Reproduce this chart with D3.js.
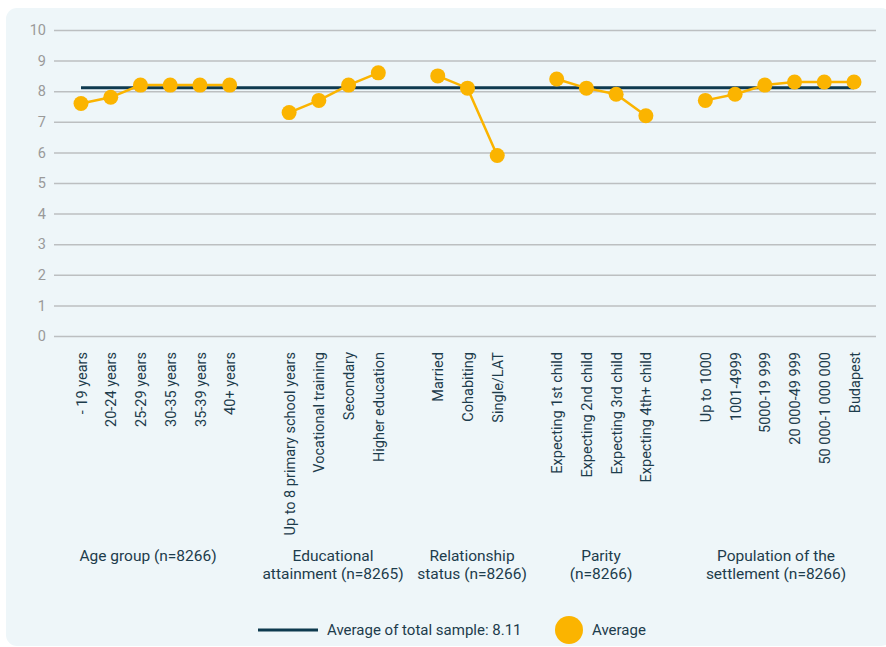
<!DOCTYPE html>
<html>
<head>
<meta charset="utf-8">
<script src="https://cdn.jsdelivr.net/npm/d3@7/dist/d3.min.js"></script>
<style>
  html, body { margin: 0; padding: 0; background: #ffffff; }
  svg { display: block; font-family: Roboto, "Noto Sans", sans-serif; }
</style>
</head>
<body>
<svg id="chart" width="886" height="647"></svg>
<script>
// Satisfaction averages by respondent group
const ageLabels = ["- 19 years", "20-24 years", "25-29 years", "30-35 years", "35-39 years", "40+ years"];
const ageValues = [7.6, 7.8, 8.2, 8.2, 8.2, 8.2];

const eduLabels = ["Up to 8 primary school years", "Vocational training", "Secondary", "Higher education"];
const eduValues = [7.3, 7.7, 8.2, 8.6];

const relLabels = ["Married", "Cohabiting", "Single/LAT"];
const relValues = [8.5, 8.1, 5.9];

const parityLabels = ["Expecting 1st child", "Expecting 2nd child", "Expecting 3rd child", "Expecting 4th+ child"];
const parityValues = [8.4, 8.1, 7.9, 7.2];

const popLabels = ["Up to 1000", "1001-4999", "5000-19 999", "20 000-49 999", "50 000-1 000 000", "Budapest"];
const popValues = [7.7, 7.9, 8.2, 8.3, 8.3, 8.3];

const groupTitles = [
  ["Age group (n=8266)"],
  ["Educational", "attainment (n=8265)"],
  ["Relationship", "status (n=8266)"],
  ["Parity", "(n=8266)"],
  ["Population of the", "settlement (n=8266)"]
];

const totalAverage = 8.11;
const yTicks = [0, 1, 2, 3, 4, 5, 6, 7, 8, 9, 10];

// Build the slot list: each group's categories followed by an empty spacer slot
const groups = [
  { labels: ageLabels, values: ageValues },
  { labels: eduLabels, values: eduValues },
  { labels: relLabels, values: relValues },
  { labels: parityLabels, values: parityValues },
  { labels: popLabels, values: popValues }
];
const slots = [];
groups.forEach((g, gi) => {
  g.slots = [];
  g.labels.forEach((lab, i) => {
    const key = "g" + gi + "_" + i;
    slots.push(key);
    g.slots.push({ key, label: lab, value: g.values[i] });
  });
  if (gi < groups.length - 1) slots.push("gap" + gi);
});

const svg = d3.select("#chart");
const W = 886, H = 647;

const gridLeft = 54, gridRight = 876;
const x = d3.scalePoint().domain(slots).range([81, 854]);
const y = d3.scaleLinear().domain([0, 10]).range([336, 30]);

const textDark = "#1d3c4c";
const orange = "#fbb400";
const navy = "#0e3a4f";

// Panel background
svg.append("rect")
  .attr("x", 6).attr("y", 8)
  .attr("width", W).attr("height", 638)
  .attr("rx", 11)
  .attr("fill", "#eef6f9");

// Horizontal gridlines and y labels
const yAxis = d3.axisLeft(y).tickValues(yTicks).tickSize(-(gridRight - gridLeft)).tickPadding(8);
const yg = svg.append("g").attr("transform", `translate(${gridLeft},0)`).call(yAxis);
yg.select(".domain").remove();
yg.selectAll(".tick line").attr("stroke", "#bcbfc1").attr("stroke-width", 1.5);
yg.selectAll(".tick text")
  .attr("fill", "#9a9a9a")
  .attr("font-size", 14.5)
  .attr("font-family", "Roboto, sans-serif");

// Category labels along the bottom, rotated
const xAxis = d3.axisBottom(x)
  .tickValues(slots.filter(s => !s.startsWith("gap")))
  .tickSize(0)
  .tickFormat(k => {
    const [gi, i] = k.slice(1).split("_").map(Number);
    return groups[gi].labels[i];
  });
const xg = svg.append("g").attr("transform", `translate(0,346)`).call(xAxis);
xg.select(".domain").remove();
xg.selectAll(".tick text")
  .attr("fill", textDark)
  .attr("font-size", 14.5)
  .attr("font-family", "Roboto, sans-serif")
  .attr("text-anchor", "end")
  .attr("dy", "0.35em")
  .attr("transform", "translate(0,6) rotate(-90)")
  .attr("x", 0).attr("y", 0);

// Total sample average line
svg.append("line")
  .attr("x1", x(slots[0])).attr("x2", x(slots[slots.length - 1]))
  .attr("y1", y(totalAverage)).attr("y2", y(totalAverage))
  .attr("stroke", navy).attr("stroke-width", 3);

// Group averages: one connected line per group
const line = d3.line().x(d => x(d.key)).y(d => y(d.value));
groups.forEach(g => {
  svg.append("path")
    .datum(g.slots)
    .attr("d", line)
    .attr("fill", "none")
    .attr("stroke", orange)
    .attr("stroke-width", 2.5);
  svg.selectAll(null)
    .data(g.slots)
    .enter().append("circle")
    .attr("cx", d => x(d.key))
    .attr("cy", d => y(d.value))
    .attr("r", 7.5)
    .attr("fill", orange);
});

// Group titles
const groupCentres = [148, 333, 472, 601, 776];
groups.forEach((g, gi) => {
  const t = svg.append("text")
    .attr("x", groupCentres[gi])
    .attr("y", 561)
    .attr("text-anchor", "middle")
    .attr("fill", textDark)
    .attr("font-size", 15.5);
  groupTitles[gi].forEach((ln, li) => {
    t.append("tspan").attr("x", groupCentres[gi]).attr("dy", li === 0 ? 0 : 18).text(ln);
  });
});

// Legend
const lg = svg.append("g");
lg.append("line")
  .attr("x1", 258).attr("x2", 318).attr("y1", 630).attr("y2", 630)
  .attr("stroke", navy).attr("stroke-width", 3);
lg.append("text")
  .attr("x", 327).attr("y", 635)
  .attr("fill", textDark).attr("font-size", 15)
  .text("Average of total sample: " + totalAverage);
lg.append("circle")
  .attr("cx", 569).attr("cy", 630).attr("r", 14)
  .attr("fill", orange);
lg.append("text")
  .attr("x", 592).attr("y", 635)
  .attr("fill", textDark).attr("font-size", 15)
  .text("Average");
</script>
</body>
</html>
